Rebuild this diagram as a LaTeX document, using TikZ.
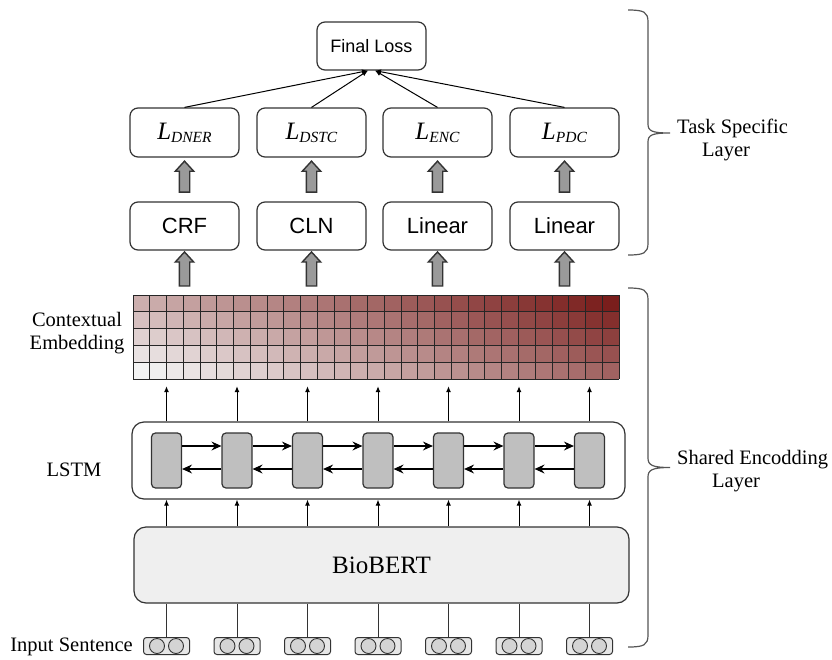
\documentclass[tikz,border=0pt]{standalone}
\usepackage{fontspec}
\setmainfont{Liberation Serif}
\setsansfont{Liberation Sans}
\usetikzlibrary{arrows.meta,shapes.arrows,calc}

\definecolor{ink}{HTML}{333333}
\definecolor{bracegray}{HTML}{555555}
\definecolor{cellgray}{HTML}{BFBFBF}
\definecolor{bertfill}{HTML}{EFEFEF}
\definecolor{tokfill}{HTML}{E6E6E6}
\definecolor{dotfill}{HTML}{D4D4D4}
\definecolor{blockgray}{HTML}{9A9A9A}
\definecolor{embdark}{RGB}{122,30,28}
\definecolor{emblight}{RGB}{243,243,243}

\tikzset{
  roundbox/.style={draw=ink, line width=1.2pt, rounded corners=8pt, fill=white,
    minimum width=109pt, minimum height=49pt, inner sep=0pt},
  headfont/.style={font=\sffamily\fontsize{22}{25}\selectfont},
  lossfont/.style={font=\sffamily\fontsize{18}{21}\selectfont},
  seriflabel/.style={font=\fontsize{20.5}{23}\selectfont, inner sep=0pt},
  thinarrow/.style={-{Latex[length=6pt,width=5pt]}, line width=1pt},
  lstmcell/.style={draw=ink, line width=1.2pt, fill=cellgray, rounded corners=4pt,
    minimum width=30pt, minimum height=55pt, inner sep=0pt},
  rnnarrow/.style={-{Stealth[length=10pt,width=9pt,inset=3.5pt]}, line width=1.1pt},
  tokenbox/.style={draw=ink, line width=1pt, fill=tokfill, rounded corners=3pt,
    minimum width=46pt, minimum height=17pt, inner sep=0pt},
  tokendot/.style={draw=ink, line width=0.9pt, fill=dotfill, circle,
    minimum size=15pt, inner sep=0pt},
  blockarrow/.style={single arrow, draw=ink, fill=blockgray, line width=1.4pt,
    rotate=90, minimum height=#1, inner xsep=0pt, inner ysep=4.5pt,
    single arrow head extend=4pt, single arrow tip angle=85},
  bracepath/.style={draw=bracegray, line width=1.2pt},
}

\newcommand{\lossname}[1]{\textit{L}\raisebox{-3pt}{\fontsize{15.5}{16}\selectfont\textit{#1}}}

\begin{document}
\begin{tikzpicture}[x=1pt,y=-1pt]
\useasboundingbox (0,0) rectangle (832,659);

% ---------- task specific layer ----------
\node[roundbox, minimum height=48pt, lossfont] (loss) at (371.5,46) {Final Loss};

\foreach \nm/\x/\sub in {dner/184.5/DNER, dstc/311.5/DSTC, enc/437.5/ENC, pdc/564.5/PDC}{
  \node[roundbox, font=\fontsize{25}{28}\selectfont] (l\nm) at (\x,132.5) {\lossname{\sub}};
}
\node[roundbox, headfont, minimum height=48pt] (hdner) at (184.5,226) {CRF};
\node[roundbox, headfont, minimum height=48pt] (hdstc) at (311.5,226) {CLN};
\node[roundbox, headfont, minimum height=48pt] (henc)  at (437.5,226) {Linear};
\node[roundbox, headfont, minimum height=48pt] (hpdc)  at (564.5,226) {Linear};

\draw[thinarrow] (ldner.north) -- ([xshift=-3.5pt]loss.south);
\draw[thinarrow] (ldstc.north) -- ([xshift=-3.5pt]loss.south);
\draw[thinarrow] (lenc.north)  -- ([xshift=3.5pt]loss.south);
\draw[thinarrow] (lpdc.north)  -- ([xshift=3.5pt]loss.south);

% ---------- contextual embedding grid ----------
\node[minimum width=486pt, minimum height=84pt, inner sep=0pt] (emb) at (376,337) {};
\foreach \c in {0,...,28}{
  \foreach \r in {0,...,4}{
    \pgfmathtruncatemacro\shade{round(100*(0.68*\c/28+0.32*\r/4))}
    \fill[embdark!\shade!emblight] (133+\c*16.7586,379-\r*16.8) rectangle ++(16.7586,-16.8);
  }
}
\foreach \c in {0,...,29}{
  \draw[black!85, line width=0.9pt] (133+\c*16.7586,295) -- (133+\c*16.7586,379);
}
\foreach \r in {0,...,5}{
  \draw[black!85, line width=0.9pt] (133,295+\r*16.8) -- (619,295+\r*16.8);
}

% block arrows between the task layers
\foreach \nm in {dner,dstc,enc,pdc}{
  \node[blockarrow=31pt] at ($(l\nm.south)!0.5!(h\nm.north)$) {};
  \node[blockarrow=34pt] at ($(h\nm.south |- emb.north)+(0,-23)$) {};
}

% ---------- LSTM ----------
\node[draw=ink, line width=1.2pt, rounded corners=12pt, minimum width=493pt,
      minimum height=77pt, inner sep=0pt] (lstm) at (378.5,460.5) {};
\foreach \i in {1,...,7}{
  \node[lstmcell] (c\i) at (166.5+70.5*\i-70.5,460.5) {};
}
\foreach \i [evaluate=\i as \j using int(\i+1)] in {1,...,6}{
  \draw[rnnarrow] ([yshift=14.5pt]c\i.east) -- ([yshift=14.5pt]c\j.west);
  \draw[rnnarrow] ([yshift=-8.5pt]c\j.west) -- ([yshift=-8.5pt]c\i.east);
}
\foreach \i in {1,...,7}{
  \draw[thinarrow] (c\i |- lstm.north) -- ([yshift=-7pt]c\i |- emb.south);
}

% ---------- BioBERT ----------
\node[draw=ink, line width=1.2pt, fill=bertfill, rounded corners=12pt,
      minimum width=495pt, minimum height=76pt, inner sep=0pt,
      font=\fontsize{25}{28}\selectfont] (bert) at (381.5,565) {BioBERT};
\foreach \i in {1,...,7}{
  \draw[thinarrow] (c\i |- bert.north) -- (c\i |- lstm.south);
}

% ---------- input tokens ----------
\foreach \i in {1,...,7}{
  \node[tokenbox] (t\i) at (c\i |- 0,646) {};
  \node[tokendot] at ([xshift=-9.5pt]t\i.center) {};
  \node[tokendot] at ([xshift=9.5pt]t\i.center) {};
  \draw[ink, line width=1pt] (t\i.north) -- (t\i |- bert.south);
}

% ---------- side labels ----------
\node[seriflabel, align=center] (lblemb) at (77,333) {Contextual\\Embedding};
\node[seriflabel] (lbllstm) at (74,470) {LSTM};
\node[seriflabel, anchor=east] (lblin) at (133,647) {Input Sentence};

% ---------- braces ----------
\draw[bracepath] (628,10) .. controls (644,10) and (648,12) .. (648,22) -- (648,124)
  .. controls (648,131) and (652,133) .. (670,133)
  .. controls (652,133) and (648,135) .. (648,142) -- (648,243)
  .. controls (648,253) and (644,255) .. (628,255);
\draw[bracepath] (628,288) .. controls (644,288) and (648,290) .. (648,300) -- (648,458)
  .. controls (648,465) and (652,467.5) .. (670,467.5)
  .. controls (652,467.5) and (648,470) .. (648,477) -- (648,635)
  .. controls (648,645) and (644,647) .. (628,647);

\node[seriflabel, align=left, anchor=west] (lbltask) at (677,139.5)
  {Task Specific\\\hspace*{25pt}Layer};
\node[seriflabel, align=left, anchor=west] (lblshared) at (677,471.5)
  {Shared Encodding\\\hspace*{35pt}Layer};
\end{tikzpicture}
\end{document}
